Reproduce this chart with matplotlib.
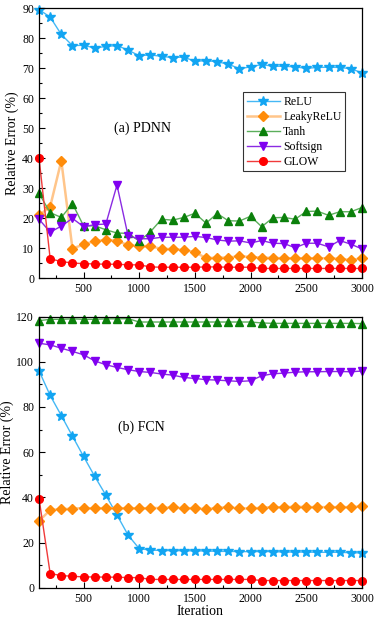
import numpy as np
import matplotlib
matplotlib.use("Agg")
import matplotlib.pyplot as plt
from matplotlib.ticker import MultipleLocator, AutoMinorLocator

plt.rcParams['font.family'] = ['Liberation Serif', 'DejaVu Serif']

iters = np.arange(100, 3001, 100)

# (a) PDNN
pdnn_relu = [89.5, 87.0, 81.2, 77.5, 77.6, 76.7, 77.2, 77.5, 76.0, 74.1,
             74.4, 73.9, 73.5, 73.7, 72.2, 72.5, 72.1, 71.3, 69.8, 70.4,
             71.2, 70.6, 70.6, 70.4, 69.9, 70.2, 70.3, 70.2, 69.8, 68.4]
pdnn_leaky = [20.9, 23.8, 39.1, 9.8, 11.2, 12.3, 12.7, 12.5, 10.9, 10.7,
              10.6, 9.7, 9.7, 9.3, 8.7, 6.6, 6.8, 6.8, 7.3, 7.0,
              6.8, 6.7, 6.6, 6.6, 6.6, 6.6, 6.6, 6.4, 6.0, 6.6]
pdnn_tanh = [28.2, 21.8, 20.2, 24.8, 17.4, 17.4, 16.1, 15.0, 14.9, 12.3,
             15.4, 19.6, 19.3, 20.2, 21.6, 18.3, 21.5, 19.1, 19.0, 20.6,
             17.1, 20.1, 20.2, 19.6, 22.2, 22.3, 20.9, 22.1, 22.1, 23.5]
pdnn_softsign = [19.6, 15.3, 17.3, 19.9, 17.1, 17.8, 18.0, 31.0, 14.0, 13.1,
                 13.1, 13.6, 13.6, 13.6, 13.9, 13.5, 12.7, 12.3, 12.4, 11.7,
                 12.5, 11.6, 11.5, 10.1, 11.6, 11.6, 10.4, 12.5, 11.3, 9.7]
pdnn_glow = [40.0, 6.4, 5.5, 5.0, 4.8, 4.7, 4.6, 4.6, 4.4, 4.4,
             3.7, 3.6, 3.6, 3.6, 3.6, 3.7, 3.7, 3.6, 3.6, 3.6,
             3.2, 3.2, 3.2, 3.2, 3.2, 3.2, 3.2, 3.2, 3.2, 3.2]

# (b) FCN
fcn_relu = [96.0, 85.1, 76.2, 67.1, 58.1, 49.3, 41.0, 32.2, 23.3, 17.3,
            16.7, 16.5, 16.4, 16.4, 16.3, 16.3, 16.1, 16.1, 16.0, 16.0,
            16.0, 16.0, 15.8, 15.8, 15.8, 15.7, 15.7, 15.7, 15.5, 15.4]
fcn_leaky = [29.6, 34.4, 34.8, 35.0, 35.3, 35.1, 35.3, 35.1, 35.3, 35.1,
             35.3, 35.3, 35.6, 35.1, 35.3, 34.7, 35.4, 35.6, 35.1, 35.1,
             35.4, 35.7, 35.6, 35.9, 35.7, 35.7, 35.7, 35.7, 35.7, 36.0]
fcn_tanh = [118.2, 118.8, 118.8, 119.0, 118.8, 118.8, 119.0, 119.0, 119.1, 117.6,
            117.6, 117.6, 117.6, 117.6, 117.6, 117.6, 117.6, 117.6, 117.6, 117.6,
            117.2, 117.0, 117.0, 117.0, 117.0, 117.0, 117.0, 117.0, 117.0, 116.9]
fcn_softsign = [108.2, 107.5, 106.0, 104.6, 103.1, 100.4, 98.7, 97.5, 96.5, 95.7,
                95.3, 94.6, 94.1, 93.1, 92.6, 92.1, 91.9, 91.6, 91.3, 91.6,
                93.8, 94.7, 95.0, 95.4, 95.6, 95.6, 95.7, 95.7, 95.6, 95.9]
fcn_glow = [39.5, 6.3, 5.4, 5.1, 4.8, 4.8, 4.7, 4.7, 4.5, 4.5,
            3.7, 3.7, 3.7, 3.7, 3.7, 3.7, 3.7, 3.7, 3.7, 3.7,
            3.2, 3.2, 3.2, 3.2, 3.2, 3.2, 3.2, 3.2, 3.2, 3.2]

labels = ['ReLU', 'LeakyReLU', 'Tanh', 'Softsign', 'GLOW']
styles = [
    dict(color='#45B8F5', marker='*', mfc='#12A5F2', mec='#12A5F2', ms=7, lw=1.0),
    dict(color='#FFC58A', marker='D', mfc='#FF8C0A', mec='#FF8C0A', ms=5, lw=1.8),
    dict(color='#5BAE5B', marker='^', mfc='#0B800B', mec='#0B800B', ms=6, lw=1.0),
    dict(color='#8A2BE2', marker='v', mfc='#8000F0', mec='#8000F0', ms=6, lw=1.0),
    dict(color='#F03A3A', marker='o', mfc='#FF0000', mec='#FF0000', ms=5.5, lw=1.0),
]

fig = plt.figure(figsize=(3.79, 6.22), dpi=100)
ax1 = fig.add_axes([0.103, 0.553, 0.852, 0.434])
ax2 = fig.add_axes([0.103, 0.055, 0.852, 0.436])


def style_axis(ax, ymax, ystep):
    ax.set_xlim(100, 3000)
    ax.set_ylim(0, ymax)
    ax.xaxis.set_major_locator(MultipleLocator(500))
    ax.yaxis.set_major_locator(MultipleLocator(ystep))
    ax.xaxis.set_minor_locator(AutoMinorLocator(2))
    ax.yaxis.set_minor_locator(AutoMinorLocator(2))
    ax.tick_params(which='both', direction='in', top=False, right=False,
                   labelsize=8.5, width=0.8)
    ax.tick_params(which='major', length=4)
    ax.tick_params(which='minor', length=2.5)
    for s in ax.spines.values():
        s.set_linewidth(0.9)
    ax.set_ylabel('Relative Error (%)', fontsize=10, labelpad=2)


pdnn = [pdnn_relu, pdnn_leaky, pdnn_tanh, pdnn_softsign, pdnn_glow]
fcn = [fcn_relu, fcn_leaky, fcn_tanh, fcn_softsign, fcn_glow]

for vals, lab, st in zip(pdnn, labels, styles):
    ax1.plot(iters, vals, label=lab, clip_on=False, **st)
for vals, lab, st in zip(fcn, labels, styles):
    ax2.plot(iters, vals, label=lab, clip_on=False, **st)

style_axis(ax1, 90, 10)
style_axis(ax2, 120, 20)
ax2.set_xlabel('Iteration', fontsize=10, labelpad=0)

ax1.text(1030, 50, '(a) PDNN', fontsize=10, ha='center', va='center')
ax2.text(1015, 71, '(b) FCN', fontsize=10, ha='center', va='center')

leg = ax1.legend(loc='upper left', bbox_to_anchor=(0.632, 0.688), fontsize=8.5,
                 frameon=True, fancybox=False, edgecolor='black',
                 borderpad=0.3, labelspacing=0.25, handlelength=2.8,
                 handletextpad=0.3, borderaxespad=0)
leg.get_frame().set_linewidth(0.8)

fig.savefig('out.png', dpi=100)
